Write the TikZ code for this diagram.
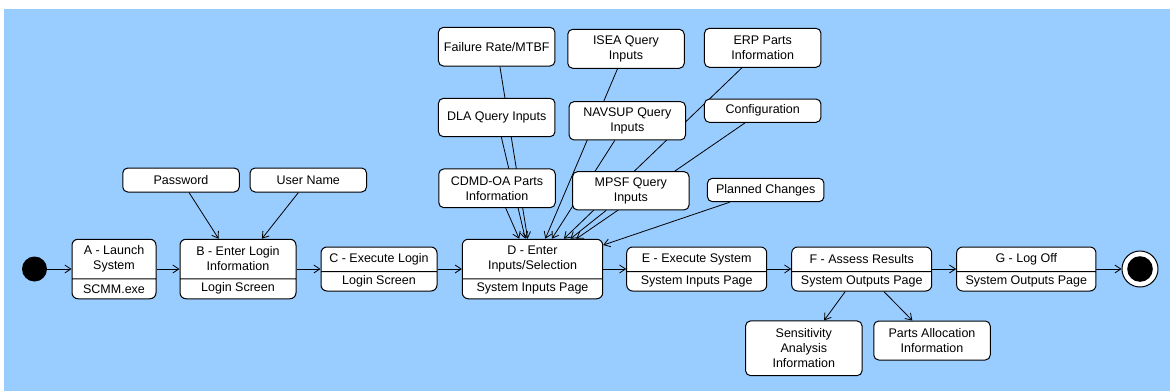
\documentclass[tikz,border=0pt]{standalone}
\usepackage{fontspec}
\setmainfont{Liberation Sans}
\usetikzlibrary{shapes.multipart,arrows.meta}
\pgfdeclarelayer{bg}
\pgfsetlayers{bg,main}
\definecolor{bgblue}{RGB}{153,204,255}
\newcommand{\pa}[3]{\parbox[c][#1pt]{#2pt}{\centering #3}}
\begin{document}
\begin{tikzpicture}[x=1pt,y=-1pt,
 every node/.style={font=\fontsize{12.5}{15}\selectfont},
 state/.style={draw, fill=white, line width=1pt, rounded corners=6pt, rectangle split, rectangle split parts=2, inner sep=0pt},
 inbox/.style={draw, fill=white, line width=1pt, rounded corners=5pt, minimum width=116.5pt, align=center, inner sep=0pt},
 flow/.style={draw, line width=0.8pt, -{Straight Barb[length=6pt,width=8pt]}}
]
\useasboundingbox (0,0) rectangle (1170,391);
\begin{pgfonlayer}{bg}
\fill[bgblue] (4,9) rectangle (1170,391);
\end{pgfonlayer}

% main flow
\node[circle, fill=black, minimum size=25pt, inner sep=0pt] (start) at (34.5,269) {};
\node[state] (A) at (114,269) {\pa{38.5}{84}{A - Launch\\System}\nodepart{two}\pa{19}{84}{SCMM.exe}};
\node[state] (B) at (238,269) {\pa{38.5}{116}{B - Enter Login\\Information}\nodepart{two}\pa{19}{116}{Login Screen}};
\node[state] (C) at (379,269) {\pa{23.5}{116}{C - Execute Login}\nodepart{two}\pa{18.5}{116}{Login Screen}};
\node[state] (D) at (532.5,269) {\pa{38.5}{140.4}{D - Enter\\Inputs/Selection}\nodepart{two}\pa{19}{140.4}{System Inputs Page}};
\node[state] (E) at (696.7,269) {\pa{23.5}{140}{E - Execute System}\nodepart{two}\pa{18.5}{140}{System Inputs Page}};
\node[state] (F) at (861.7,269) {\pa{23.5}{140}{F - Assess Results}\nodepart{two}\pa{18.5}{140}{System Outputs Page}};
\node[state] (G) at (1026.3,269) {\pa{23.5}{139.3}{G - Log Off}\nodepart{two}\pa{18.5}{139.3}{System Outputs Page}};
\node[circle, draw, fill=white, line width=1pt, minimum size=36pt, inner sep=0pt] (end) at (1140,269) {};
\fill (end.center) circle (12.8pt);

% inputs
\node[inbox, minimum height=24pt] (pw) at (181,180) {Password};
\node[inbox, minimum height=24pt] (un) at (308.3,180) {User Name};
\node[inbox, minimum height=38.7pt] (fr) at (496.7,46.7) {Failure Rate/MTBF};
\node[inbox, minimum height=39pt] (isea) at (626,48.8) {ISEA Query\\Inputs};
\node[inbox, minimum height=39pt] (erp) at (762.7,47.8) {ERP Parts\\Information};
\node[inbox, minimum height=38.4pt] (dla) at (496.7,117.5) {DLA Query Inputs};
\node[inbox, minimum height=38.3pt] (nav) at (627.3,120.8) {NAVSUP Query\\Inputs};
\node[inbox, minimum height=23.3pt] (conf) at (762.7,110.7) {Configuration};
\node[inbox, minimum height=38.7pt] (cdmd) at (497,188.3) {CDMD-OA Parts\\Information};
\node[inbox, minimum height=38.3pt] (mpsf) at (630.8,190.8) {MPSF Query\\Inputs};
\node[inbox, minimum height=23.4pt] (plan) at (765.7,190) {Planned Changes};
\node[inbox, minimum height=54.7pt] (sens) at (803.8,348.3) {Sensitivity\\Analysis\\Information};
\node[inbox, minimum height=39pt] (parts) at (932,340.5) {Parts Allocation\\Information};

\begin{pgfonlayer}{bg}
\path[flow] (start) -- (A);
\path[flow] (A) -- (B);
\path[flow] (B) -- (C);
\path[flow] (C) -- (D);
\path[flow] (D) -- (E);
\path[flow] (E) -- (F);
\path[flow] (F) -- (G);
\path[flow] (G) -- (end);
\path[flow] (pw) -- (B);
\path[flow] (un) -- (B);
\path[flow] (fr) -- (D);
\path[flow] (dla) -- (D);
\path[flow] (cdmd) -- (D);
\path[flow] (isea) -- (D);
\path[flow] (nav) -- (D);
\path[flow] (erp) -- (D);
\path[flow] (conf) -- (D);
\path[flow] (mpsf) -- (D);
\path[flow] (plan) -- (D);
\path[flow] (F) -- (sens);
\path[flow] (F) -- (parts);
\end{pgfonlayer}
\end{tikzpicture}
\end{document}
